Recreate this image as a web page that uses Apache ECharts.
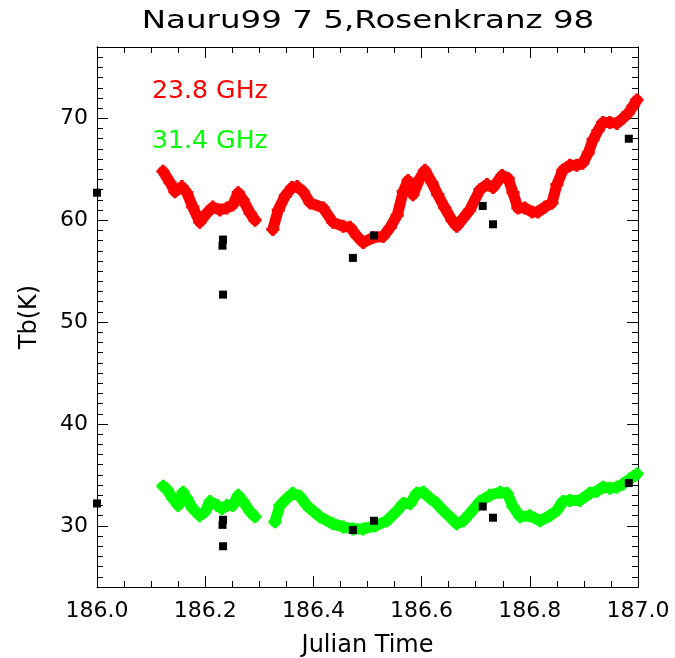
<!DOCTYPE html>
<html>
<head>
<meta charset="utf-8">
<script src="https://cdn.jsdelivr.net/npm/echarts@6/dist/echarts.min.js"></script>
<style>
  html, body { margin: 0; padding: 0; background: #fff; }
  #chart { width: 675px; height: 658px; }
</style>
</head>
<body>
<div id="chart"></div>
<script>
// 23.8 GHz brightness temperature, two continuous pieces (gap near 186.31)
let tb238SegA = [[186.122,64.8],[186.135,63.7],[186.144,62.8],[186.157,63.3],[186.166,62.7],[186.177,61.3],[186.190,59.8],[186.203,60.7],[186.214,61.3],[186.227,61.0],[186.240,61.2],[186.251,61.5],[186.261,62.7],[186.270,62.0],[186.283,60.7],[186.292,60.0]];
let tb238SegB = [[186.325,59.1],[186.335,61.0],[186.348,62.4],[186.360,63.2],[186.370,63.3],[186.381,62.8],[186.394,61.7],[186.418,61.2],[186.436,59.8],[186.455,59.4],[186.468,59.3],[186.481,58.4],[186.492,57.8],[186.510,58.3],[186.529,58.4],[186.542,59.3],[186.555,60.5],[186.566,62.8],[186.575,63.9],[186.584,62.5],[186.597,64.1],[186.606,64.9],[186.619,63.7],[186.630,62.5],[186.643,61.2],[186.656,60.0],[186.665,59.4],[186.677,60.2],[186.689,61.0],[186.708,63.0],[186.721,63.5],[186.732,63.2],[186.749,64.4],[186.760,64.1],[186.769,62.7],[186.778,61.2],[186.791,61.2],[186.804,60.8],[186.815,60.8],[186.828,61.3],[186.841,61.7],[186.850,63.5],[186.861,64.9],[186.874,65.4],[186.887,65.4],[186.898,65.6],[186.908,66.6],[186.917,67.9],[186.926,68.8],[186.935,69.6],[186.948,69.6],[186.961,69.5],[186.972,70.0],[186.982,70.5],[186.991,71.2],[186.998,71.8]];

// 31.4 GHz
let tb314SegA = [[186.122,33.9],[186.129,33.6],[186.140,32.7],[186.150,32.0],[186.159,33.3],[186.166,32.7],[186.177,31.7],[186.190,31.0],[186.200,31.4],[186.209,32.4],[186.222,32.0],[186.231,31.7],[186.240,32.0],[186.251,32.0],[186.261,33.0],[186.270,32.4],[186.283,31.4],[186.292,30.9]];
let tb314SegB = [[186.329,30.4],[186.338,32.0],[186.351,32.7],[186.362,33.2],[186.375,32.9],[186.388,32.0],[186.394,31.7],[186.412,30.9],[186.436,30.2],[186.455,29.9],[186.473,29.7],[186.492,29.7],[186.514,30.0],[186.536,30.5],[186.555,31.5],[186.566,32.2],[186.579,32.2],[186.591,33.2],[186.603,33.3],[186.616,32.7],[186.628,32.2],[186.640,31.5],[186.652,30.9],[186.665,30.2],[186.677,30.5],[186.689,31.2],[186.708,32.4],[186.726,33.0],[186.745,33.3],[186.758,33.2],[186.769,31.9],[186.782,30.9],[186.800,31.0],[186.819,30.5],[186.837,31.0],[186.850,31.5],[186.861,32.4],[186.874,32.5],[186.893,32.5],[186.911,33.2],[186.924,33.4],[186.935,33.8],[186.948,33.7],[186.961,33.8],[186.972,34.1],[186.985,34.6],[186.998,35.1]];

// radiosonde calculations (Rosenkranz 98)
let sondeTime = [186.0, 186.233, 186.232, 186.233, 186.473, 186.512, 186.713, 186.732, 186.983];
let sondeTb238 = [62.7, 58.1, 57.5, 52.7, 56.3, 58.5, 61.4, 59.6, 68.0];
let sondeTb314 = [32.2, 30.6, 30.1, 28.0, 29.6, 30.5, 31.9, 30.8, 34.2];

let xTicks = [186.0, 186.2, 186.4, 186.6, 186.8, 187.0];
let yTicks = [30, 40, 50, 60, 70];

let font = '"DejaVu Sans", sans-serif';
let plusSym = 'path://M3,0H5V3H8V5H5V8H3V5H0V3H3Z';

let yMinor = [];
for (let v = 24; v <= 77; v++) yMinor.push(v);

function zip(t, v) {
  return t.map(function (a, i) { return [a, v[i]]; });
}

function band(data, color) {
  return {
    type: "line",
    data: data,
    xAxisIndex: 0,
    yAxisIndex: 0,
    symbol: plusSym,
    symbolSize: 13,
    showSymbol: true,
    itemStyle: { color: color, opacity: 1 },
    lineStyle: { color: color, width: 11, join: "round", cap: "round" },
    z: 2,
  };
}

function yAxisDef(pos, ticks, len, withLabel) {
  return {
    type: "value",
    position: pos,
    min: 24,
    max: 77,
    interval: 1,
    axisLine: { show: true, onZero: false, lineStyle: { color: "#000", width: 1 } },
    axisTick: { show: true, inside: true, length: len, customValues: ticks, lineStyle: { color: "#000" } },
    axisLabel: withLabel
      ? { show: true, customValues: yTicks, color: "#000", fontSize: 22, fontFamily: font, margin: 9 }
      : { show: false },
    splitLine: { show: false },
  };
}

function xAxisDef(pos, withLabel) {
  return {
    type: "value",
    position: pos,
    min: 186,
    max: 187,
    interval: 0.2,
    axisLine: { show: true, onZero: false, lineStyle: { color: "#000", width: 1 } },
    axisTick: { show: true, inside: true, length: 11, lineStyle: { color: "#000" } },
    minorTick: { show: true, splitNumber: 4, length: 6, lineStyle: { color: "#000" } },
    axisLabel: withLabel
      ? {
          show: true,
          customValues: xTicks,
          formatter: function (v) { return v.toFixed(1); },
          color: "#000",
          fontSize: 22,
          fontFamily: font,
          margin: 13,
        }
      : { show: false },
    splitLine: { show: false },
  };
}

let xBottom = xAxisDef("bottom", true);
xBottom.name = "Julian Time";
xBottom.nameLocation = "middle";
xBottom.nameGap = 47;
xBottom.nameTextStyle = { color: "#000", fontSize: 24, fontFamily: font };

let yLeft = yAxisDef("left", yTicks, 11, true);
yLeft.name = "Tb(K)";
yLeft.nameLocation = "middle";
yLeft.nameGap = 55;
yLeft.nameTextStyle = { color: "#000", fontSize: 24, fontFamily: font };

let options = {
  animation: false,
  backgroundColor: "#fff",
  grid: { left: 97, right: 37, top: 47, bottom: 71, containLabel: false, outerBoundsMode: "none" },
  xAxis: [xBottom, xAxisDef("top", false)],
  yAxis: [
    yLeft,
    yAxisDef("left", yMinor, 6, false),
    yAxisDef("right", yTicks, 11, false),
    yAxisDef("right", yMinor, 6, false),
  ],
  graphic: [
    {
      type: "text",
      x: 368,
      y: 21,
      scaleX: 1.3,
      style: { text: "Nauru99 7 5,Rosenkranz 98", fill: "#000", font: "25px " + font, align: "center", verticalAlign: "middle" },
    },
    {
      type: "text",
      x: 152,
      y: 92,
      scaleX: 1.05,
      style: { text: "23.8 GHz", fill: "#ff0000", font: "24px " + font, align: "left", verticalAlign: "middle" },
    },
    {
      type: "text",
      x: 152,
      y: 142,
      scaleX: 1.05,
      style: { text: "31.4 GHz", fill: "#00ff00", font: "24px " + font, align: "left", verticalAlign: "middle" },
    },
  ],
  series: [
    band(tb238SegA, "#ff0000"),
    band(tb238SegB, "#ff0000"),
    band(tb314SegA, "#00ff00"),
    band(tb314SegB, "#00ff00"),
    {
      type: "scatter",
      data: zip(sondeTime, sondeTb238),
      symbol: "rect",
      symbolSize: 8,
      itemStyle: { color: "#000", opacity: 1 },
      z: 5,
    },
    {
      type: "scatter",
      data: zip(sondeTime, sondeTb314),
      symbol: "rect",
      symbolSize: 8,
      itemStyle: { color: "#000", opacity: 1 },
      z: 5,
    },
  ],
};

let chart = echarts.init(document.getElementById("chart"));
chart.setOption(options);
</script>
</body>
</html>
